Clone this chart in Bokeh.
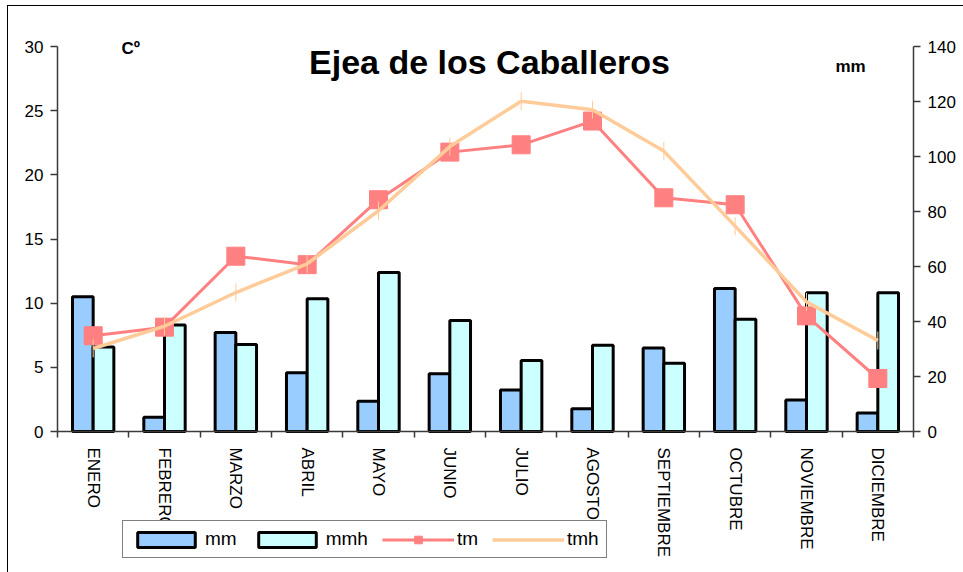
import numpy as np
from bokeh.plotting import figure
from bokeh.models import (Range1d, LinearAxis, FixedTicker, CustomJSTickFormatter,
                          Label, Legend, LegendItem, ColumnDataSource)
from bokeh.transform import dodge
from bokeh.embed import file_html
from bokeh.resources import INLINE

# ---- data ----
months = ["ENERO", "FEBRERO", "MARZO", "ABRIL", "MAYO", "JUNIO", "JULIO",
          "AGOSTO", "SEPTIEMBRE", "OCTUBRE", "NOVIEMBRE", "DICIEMBRE"]
mm = [49.0, 5.2, 36.0, 21.4, 11.0, 21.0, 15.1, 8.3, 30.4, 52.0, 11.5, 6.7]
mmh = [30.7, 38.7, 31.6, 48.3, 57.8, 40.4, 25.8, 31.4, 24.8, 40.8, 50.5, 50.5]
tm = [7.46, 8.13, 13.66, 13.0, 18.06, 21.77, 22.34, 24.19, 18.21, 17.67, 9.01, 4.13]
tmh = [6.47, 8.2, 10.83, 13.07, 17.2, 22.2, 25.74, 25.07, 21.85, 16.0, 10.1, 7.09]
temp_ticks = [0, 5, 10, 15, 20, 25, 30]
mm_ticks = [0, 20, 40, 60, 80, 100, 120, 140]

FONT = "Liberation Sans"
AXIS_COL = "#3a3a3a"

# ---- layout (pixels within the figure) ----
W, H = 955, 566
PL, PR, PT, PB = 49, 905, 40, 425          # plot area edges
n = len(months)
T_MAX, MM_MAX = 30, 140
xu = (PR - PL) / n
yu = (PB - PT) / T_MAX
mu = (PB - PT) / MM_MAX

src = ColumnDataSource(dict(x=np.arange(n) + 0.5, mm=mm, mmh=mmh, tm=tm, tmh=tmh))

p = figure(width=W, height=H, output_backend="svg", toolbar_location=None,
           x_range=Range1d(-PL / xu, n + (W - PR) / xu),
           y_range=Range1d(-(H - PB) / yu, T_MAX + PT / yu),
           min_border=0, x_axis_type=None, y_axis_type=None)
p.styles = {"margin-left": "8px", "margin-top": "6px", "outline": "1px solid black"}
p.outline_line_color = None
p.extra_y_ranges = {"mm": Range1d(-(H - PB) / mu, MM_MAX + PT / mu)}
p.background_fill_color = "white"
p.border_fill_color = "white"

# left axis (temperature)
yl = LinearAxis(ticker=FixedTicker(ticks=temp_ticks), fixed_location=0, bounds=(0, T_MAX))
# right axis (mm)
yr = LinearAxis(y_range_name="mm", ticker=FixedTicker(ticks=mm_ticks),
                fixed_location=n, bounds=(0, MM_MAX))
# bottom axis (months, ticks at category boundaries)
xb = LinearAxis(ticker=FixedTicker(ticks=list(np.arange(n) + 0.5),
                                   minor_ticks=list(range(n + 1))),
                formatter=CustomJSTickFormatter(args=dict(labels=months),
                                                code="return labels[Math.floor(tick)];"),
                fixed_location=0, bounds=(0, n))
for ax in (yl, yr):
    ax.major_tick_out = 7
    ax.major_tick_in = 0
    ax.minor_tick_out = 0
    ax.minor_tick_in = 0
    ax.major_label_standoff = 7
for ax in (yl, yr, xb):
    ax.axis_line_color = AXIS_COL
    ax.axis_line_width = 1.5
    ax.major_tick_line_color = AXIS_COL
    ax.minor_tick_line_color = AXIS_COL
    ax.major_tick_line_width = 1.5
    ax.minor_tick_line_width = 1.5
    ax.major_label_text_font = FONT
    ax.major_label_text_font_size = "17px"
    ax.major_label_text_color = "black"
xb.major_tick_out = 0
xb.major_tick_in = 0
xb.minor_tick_out = 6
xb.minor_tick_in = 0
xb.major_label_standoff = 10
xb.major_label_orientation = -np.pi / 2

p.add_layout(yl, "left")
p.add_layout(yr, "right")
p.add_layout(xb, "below")

# bars
bw = 0.29
r_mm = p.vbar(x=dodge("x", -bw / 2), top="mm", width=bw, source=src, y_range_name="mm",
              fill_color="#99CCFF", line_color="black", line_width=3)
r_mmh = p.vbar(x=dodge("x", bw / 2), top="mmh", width=bw, source=src, y_range_name="mm",
               fill_color="#CCFFFF", line_color="black", line_width=3)

# temperature lines
r_tm_l = p.line("x", "tm", source=src, line_color="#FF8080", line_width=3)
r_tm_m = p.scatter("x", "tm", source=src, marker="square", size=18,
                   fill_color="#FF8080", line_color="#FF8080")
r_tmh_l = p.line("x", "tmh", source=src, line_color="#FFCC99", line_width=3.5)
r_tmh_m = p.scatter("x", "tmh", source=src, marker="dash", angle=np.pi / 2, size=18,
                    line_color="#FFCC99", line_width=1)

legend = Legend(items=[
    LegendItem(label="mm", renderers=[r_mm]),
    LegendItem(label="mmh", renderers=[r_mmh]),
    LegendItem(label="tm", renderers=[r_tm_l, r_tm_m]),
    LegendItem(label="tmh", renderers=[r_tmh_l, r_tmh_m]),
], orientation="horizontal", location=(114, 14))
legend.glyph_width = 72
legend.glyph_height = 19
legend.label_text_font = FONT
legend.label_text_font_size = "19px"
legend.label_text_color = "black"
legend.label_standoff = 3
legend.spacing = 14
legend.padding = 7
legend.margin = 0
legend.border_line_color = "black"
legend.border_line_width = 1
legend.background_fill_color = "white"
legend.background_fill_alpha = 1
p.add_layout(legend, "center")

# texts
p.add_layout(Label(x=481, y=H - 55, x_units="screen", y_units="screen",
                   text="Ejea de los Caballeros", text_font=FONT, text_font_size="34px",
                   text_font_style="bold", text_align="center", text_baseline="alphabetic",
                   text_color="black"))
p.add_layout(Label(x=113, y=H - 42, x_units="screen", y_units="screen", text="Cº",
                   text_font=FONT, text_font_size="17px", text_font_style="bold",
                   text_baseline="alphabetic", text_color="black"))
p.add_layout(Label(x=827, y=H - 60, x_units="screen", y_units="screen", text="mm",
                   text_font=FONT, text_font_size="17px", text_font_style="bold",
                   text_baseline="alphabetic", text_color="black"))

open("out.html", "w").write(file_html(p, INLINE))
